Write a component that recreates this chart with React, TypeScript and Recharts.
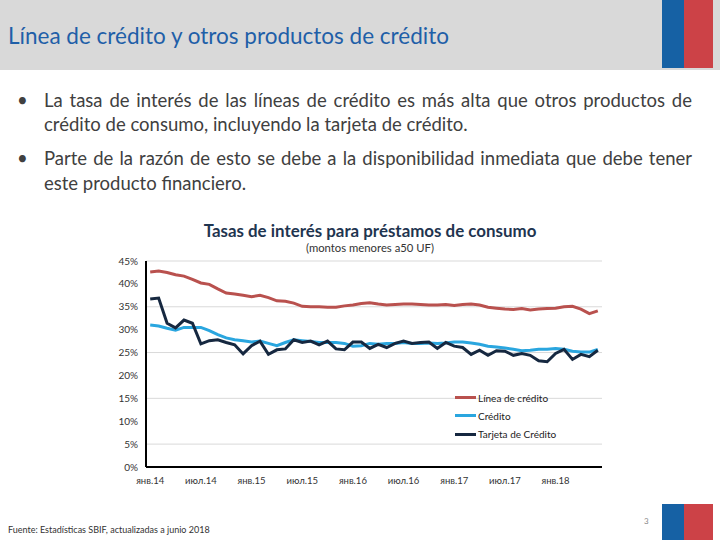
import React from 'react';
import { LineChart, Line, XAxis, YAxis, CartesianGrid } from 'recharts';

const months = [
  'янв.14','фев.14','мар.14','апр.14','май.14','июн.14','июл.14','авг.14','сен.14','окт.14','ноя.14','дек.14',
  'янв.15','фев.15','мар.15','апр.15','май.15','июн.15','июл.15','авг.15','сен.15','окт.15','ноя.15','дек.15',
  'янв.16','фев.16','мар.16','апр.16','май.16','июн.16','июл.16','авг.16','сен.16','окт.16','ноя.16','дек.16',
  'янв.17','фев.17','мар.17','апр.17','май.17','июн.17','июл.17','авг.17','сен.17','окт.17','ноя.17','дек.17',
  'янв.18','фев.18','мар.18','апр.18','май.18','июн.18',
];

const lineaCredito = [
  42.6, 42.8, 42.5, 42.0, 41.7, 41.0, 40.2, 39.9, 38.9, 38.0, 37.8, 37.5,
  37.2, 37.5, 37.0, 36.3, 36.2, 35.8, 35.1, 35.0, 35.0, 34.9, 34.9, 35.2,
  35.4, 35.7, 35.9, 35.6, 35.4, 35.5, 35.6, 35.6, 35.5, 35.4, 35.4, 35.5,
  35.3, 35.5, 35.6, 35.4, 34.9, 34.7, 34.5, 34.4, 34.6, 34.3, 34.5, 34.6,
  34.7, 35.0, 35.1, 34.5, 33.5, 34.1,
];

const credito = [
  31.0, 30.8, 30.3, 29.9, 30.5, 30.5, 30.5, 29.8, 28.9, 28.2, 27.8, 27.6,
  27.3, 27.5, 27.0, 26.5, 27.2, 27.8, 27.6, 27.4, 27.2, 27.2, 27.2, 27.0,
  26.4, 26.5, 27.0, 26.8, 27.0, 27.0, 27.2, 27.0, 27.0, 27.1, 27.0, 27.1,
  27.3, 27.3, 27.1, 26.8, 26.4, 26.2, 26.0, 25.7, 25.4, 25.5, 25.7, 25.7,
  25.9, 25.7, 25.3, 25.1, 25.1, 25.7,
];

const tarjeta = [
  36.7, 36.9, 31.4, 30.4, 32.1, 31.4, 26.9, 27.6, 27.8, 27.2, 26.7, 24.7,
  26.5, 27.5, 24.6, 25.6, 25.8, 27.8, 27.2, 27.5, 26.7, 27.5, 25.8, 25.6,
  27.3, 27.3, 25.9, 26.8, 26.1, 27.0, 27.5, 27.0, 27.2, 27.3, 25.9, 27.2,
  26.4, 26.1, 24.6, 25.5, 24.4, 25.4, 25.3, 24.4, 24.8, 24.4, 23.2, 23.0,
  24.8, 25.7, 23.5, 24.6, 24.1, 25.5,
];

const yTicks = [0, 5, 10, 15, 20, 25, 30, 35, 40, 45];

const series = [
  { key: 'linea', name: 'Línea de crédito', color: '#b9514e' },
  { key: 'credito', name: 'Crédito', color: '#2aa6df' },
  { key: 'tarjeta', name: 'Tarjeta de Crédito', color: '#162840' },
];

const data = months.map((m, i) => ({
  m,
  linea: lineaCredito[i],
  credito: credito[i],
  tarjeta: tarjeta[i],
}));

const FONT = 'Lato, "Open Sans", sans-serif';

const abs = (left: number, top: number, extra: React.CSSProperties = {}): React.CSSProperties => ({
  position: 'absolute',
  left,
  top,
  ...extra,
});

export default function App() {
  const bulletText: React.CSSProperties = {
    fontSize: 18.5,
    lineHeight: '24px',
    color: '#404040',
    whiteSpace: 'nowrap',
  };
  return (
    <div
      style={{
        position: 'absolute',
        left: 0,
        top: 0,
        width: 720,
        height: 540,
        background: '#ffffff',
        overflow: 'hidden',
        fontFamily: FONT,
      }}
    >
      {/* header band */}
      <div style={abs(0, 0, { width: 720, height: 70, background: '#d9d9d9' })} />
      <div style={abs(662, 0, { width: 22, height: 68, background: '#1661a4' })} />
      <div style={abs(684, 0, { width: 29, height: 68, background: '#cc4247' })} />
      <div
        style={abs(8, 25, {
          fontSize: 22.5,
          lineHeight: '22px',
          color: '#1f5fa8',
          whiteSpace: 'nowrap',
        })}
      >
        Línea de crédito y otros productos de crédito
      </div>

      {/* bullets */}
      <div style={abs(17, 88, { ...bulletText })}>•</div>
      <div style={abs(44, 88, { ...bulletText, width: 648, whiteSpace: 'normal', textAlign: 'justify', textAlignLast: 'justify' })}>
        La tasa de interés de las líneas de crédito es más alta que otros productos de
      </div>
      <div style={abs(44, 112, bulletText)}>crédito de consumo, incluyendo la tarjeta de crédito.</div>

      <div style={abs(17, 146, { ...bulletText })}>•</div>
      <div style={abs(44, 146, { ...bulletText, width: 648, whiteSpace: 'normal', textAlign: 'justify', textAlignLast: 'justify' })}>
        Parte de la razón de esto se debe a la disponibilidad inmediata que debe tener
      </div>
      <div style={abs(44, 171, bulletText)}>este producto financiero.</div>

      {/* chart titles */}
      <div
        style={abs(170, 221, {
          width: 400,
          textAlign: 'center',
          fontSize: 16.9,
          fontWeight: 700,
          lineHeight: '20px',
          color: '#1f3550',
        })}
      >
        Tasas de interés para préstamos de consumo
      </div>
      <div
        style={abs(170, 242, {
          width: 400,
          textAlign: 'center',
          fontSize: 11.3,
          lineHeight: '12px',
          color: '#333333',
        })}
      >
        (montos menores a50 UF)
      </div>

      <div style={abs(0, 0)}>
        <LineChart
          width={720}
          height={540}
          data={data}
          margin={{ top: 261, right: 118, bottom: 43, left: 106 }}
        >
          <CartesianGrid vertical={false} stroke="#d9d9d9" strokeWidth={1} />
          <XAxis
            dataKey="m"
            interval={5}
            tickLine={false}
            tickMargin={4}
            axisLine={{ stroke: '#000000', strokeWidth: 2 }}
            tick={{ fontSize: 9.5, fill: '#333333', fontFamily: FONT }}
            padding={{ left: 4.2, right: 4.2 }}
            height={30}
          />
          <YAxis
            domain={[0, 45]}
            ticks={yTicks}
            tickFormatter={(v: number) => `${v}%`}
            tickLine={false}
            axisLine={{ stroke: '#000000', strokeWidth: 2 }}
            tick={{ fontSize: 10, fill: '#333333', fontFamily: FONT }}
            width={40}
          />
          {series.map((s) => (
            <Line
              key={s.key}
              type="linear"
              dataKey={s.key}
              name={s.name}
              stroke={s.color}
              strokeWidth={3}
              dot={false}
              isAnimationActive={false}
            />
          ))}
        </LineChart>
      </div>

      {/* legend */}
      {series.map((s, i) => (
        <div key={s.key} style={abs(455, 390 + i * 18.3, { height: 15, display: 'flex', alignItems: 'center' })}>
          <div style={{ width: 21, height: 3, background: s.color }} />
          <div style={{ marginLeft: 2, fontSize: 10, color: '#222222', whiteSpace: 'nowrap' }}>{s.name}</div>
        </div>
      ))}

      {/* footer */}
      <div style={abs(8, 524, { fontSize: 9, lineHeight: '12px', color: '#333333', whiteSpace: 'nowrap' })}>
        Fuente: Estadísticas SBIF, actualizadas a junio 2018
      </div>
      <div style={abs(644, 516, { fontSize: 8, lineHeight: '10px', color: '#888888' })}>3</div>
      <div style={abs(662, 504, { width: 22, height: 36, background: '#1661a4' })} />
      <div style={abs(684, 504, { width: 29, height: 36, background: '#cc4247' })} />
    </div>
  );
}
